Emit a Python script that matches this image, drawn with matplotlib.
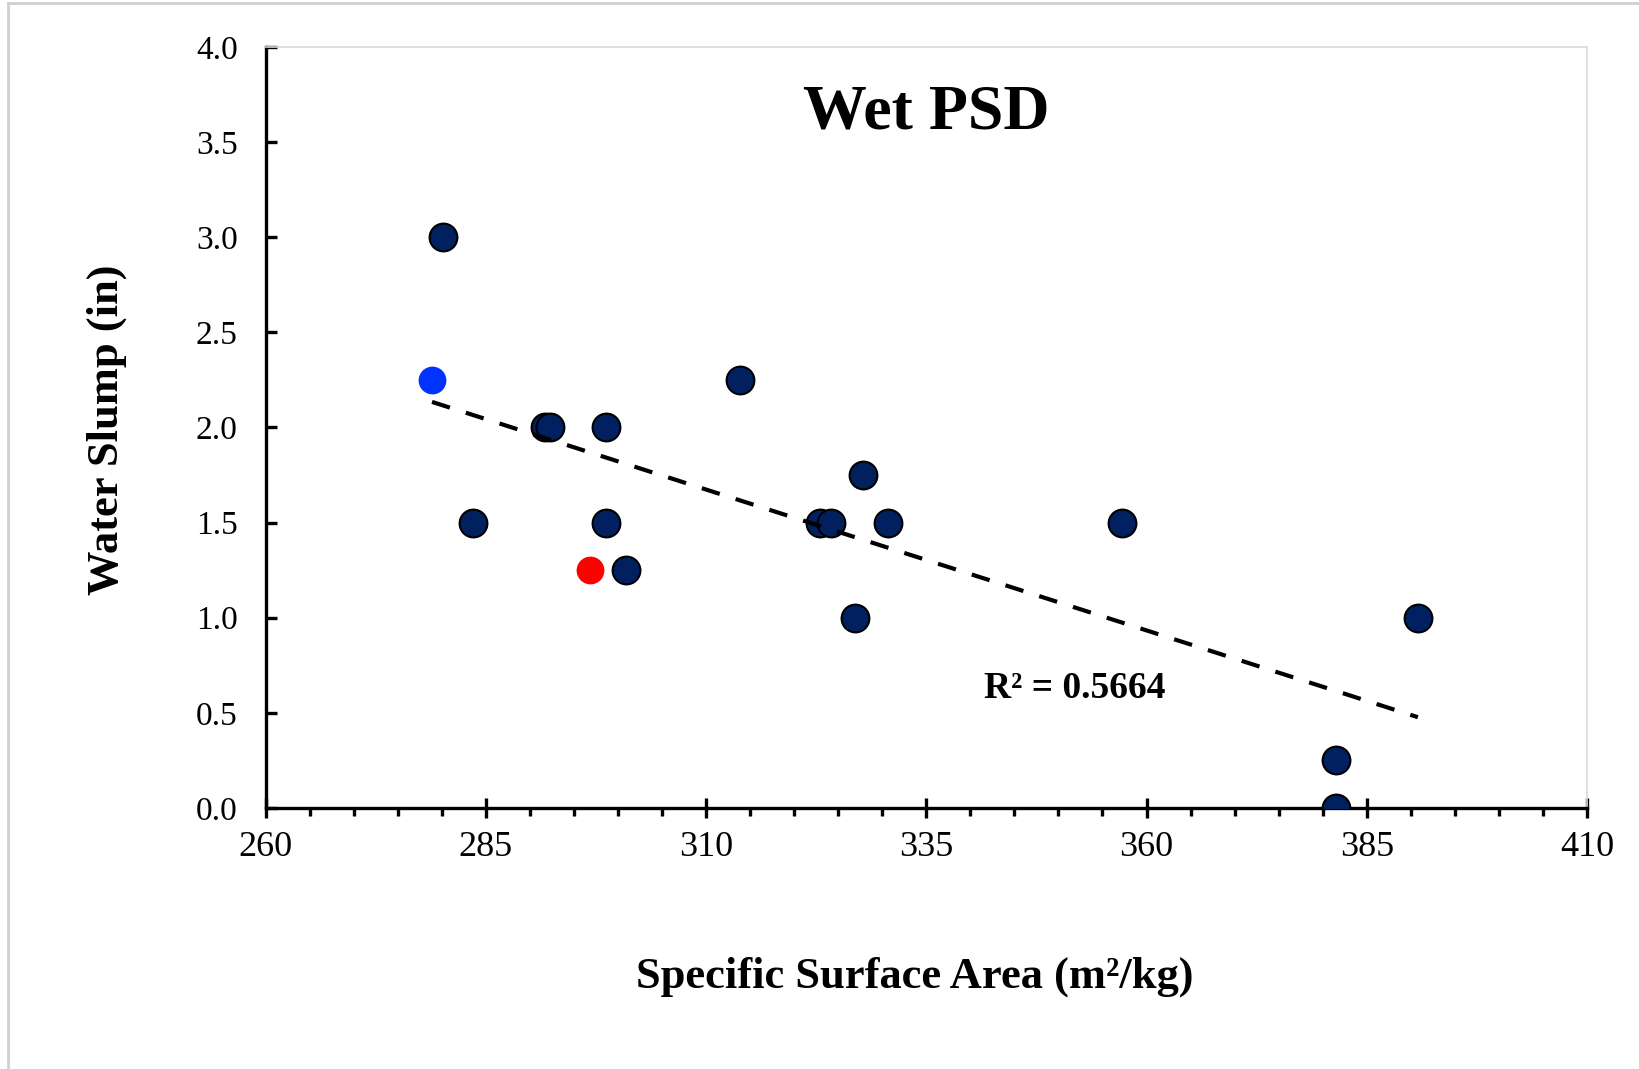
import matplotlib.pyplot as plt
import numpy as np
from matplotlib.lines import Line2D
from matplotlib.ticker import FixedLocator

# specific surface area (m2/kg) and water slump (in)
ssa = [280.2, 283.5, 291.7, 292.3, 298.7, 298.7, 300.9, 313.8, 327.8,
       322.9, 324.2, 330.7, 326.9, 357.2, 390.8, 381.5, 381.5]
slump = [3.0, 1.5, 2.0, 2.0, 2.0, 1.5, 1.25, 2.25, 1.75,
         1.5, 1.5, 1.5, 1.0, 1.5, 1.0, 0.25, 0.0]

# highlighted mixes
blue_ssa = [278.9]
blue_slump = [2.25]
red_ssa = [296.8]
red_slump = [1.25]

x_ticks = [260, 285, 310, 335, 360, 385, 410]
y_ticks = [0.0, 0.5, 1.0, 1.5, 2.0, 2.5, 3.0, 3.5, 4.0]
r2_label = "R² = 0.5664"

plt.rcParams['font.family'] = ['Liberation Serif', 'DejaVu Serif']

fig = plt.figure(figsize=(16.39, 10.69), dpi=100)
ax = fig.add_axes([0.162, 0.2442, 0.8063, 0.7119])

# light frame round the whole picture (left and top edges visible)
fig.add_artist(Line2D([0.0049, 0.0049], [0, 0.997], transform=fig.transFigure,
                      color='#d0d0d0', lw=2))
fig.add_artist(Line2D([0.0049, 1], [0.997, 0.997], transform=fig.transFigure,
                      color='#d0d0d0', lw=2))

ax.scatter(ssa, slump, s=400, color='#002060', edgecolor='black',
           linewidth=1.5, zorder=3)
ax.scatter(blue_ssa, blue_slump, s=400, color='#0033ff', linewidth=0, zorder=3)
ax.scatter(red_ssa, red_slump, s=400, color='#ff0000', linewidth=0, zorder=3)

# linear trend through all points
xall = np.array(ssa + blue_ssa + red_ssa)
yall = np.array(slump + blue_slump + red_slump)
m, b = np.polyfit(xall, yall, 1)
xt = np.array([xall.min(), xall.max()])
ax.plot(xt, m*xt + b, color='black', lw=3, dashes=(4.5, 4), zorder=4)

ax.text(351.9, 0.63, r2_label, fontsize=27, fontweight='bold',
        ha='center', va='center')
ax.text(0.5, 0.913, "Wet PSD", transform=ax.transAxes, fontsize=46,
        fontweight='bold', ha='center', va='center')

ax.set_xlim(260, 410)
ax.set_ylim(0, 4)
ax.xaxis.set_major_locator(FixedLocator(x_ticks))
ax.xaxis.set_minor_locator(FixedLocator(np.arange(260, 411, 5)))
ax.yaxis.set_major_locator(FixedLocator(y_ticks))
ax.yaxis.set_major_formatter(plt.FormatStrFormatter('%.1f'))

for s in ['left', 'bottom']:
    ax.spines[s].set_linewidth(2.4)
    ax.spines[s].set_color('black')
for s in ['top', 'right']:
    ax.spines[s].set_linewidth(1.2)
    ax.spines[s].set_color('#d9d9d9')

ax.tick_params(axis='x', which='major', direction='inout', length=15,
               width=2.4, labelsize=26, pad=9)
ax.tick_params(axis='x', which='minor', direction='out', length=6, width=2.4)
ax.tick_params(axis='y', which='major', direction='in', length=8,
               width=2.4, labelsize=24, pad=20)

fig.text(915/1639, 1-977/1069, "Specific Surface Area (m²/kg)",
         fontsize=32, fontweight='bold', ha='center', va='center')
fig.text(107/1639, 1-430/1069, "Water Slump (in)", fontsize=32,
         fontweight='bold', ha='center', va='center', rotation=90)

fig.savefig('out.png', dpi=100)
